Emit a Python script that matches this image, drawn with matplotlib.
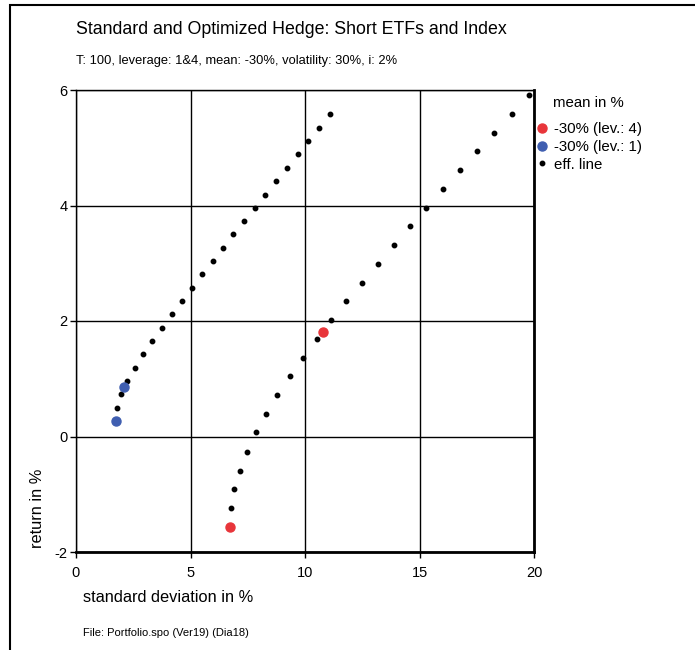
import matplotlib.pyplot as plt
from matplotlib.patches import Rectangle

plt.rcParams["font.family"] = ["Liberation Sans", "DejaVu Sans"]
plt.rcParams["axes.unicode_minus"] = False

# efficient line, leverage 1
eff1_sd = [1.80, 1.97, 2.24, 2.58, 2.94, 3.33, 3.76, 4.18, 4.62, 5.07, 5.52, 5.97,
           6.42, 6.87, 7.34, 7.80, 8.27, 8.75, 9.21, 9.68, 10.14, 10.62, 11.09]
eff1_ret = [0.50, 0.73, 0.96, 1.19, 1.42, 1.65, 1.88, 2.12, 2.35, 2.58, 2.81, 3.04,
            3.27, 3.50, 3.73, 3.96, 4.19, 4.42, 4.65, 4.89, 5.12, 5.35, 5.58]

# efficient line, leverage 4
eff4_sd = [6.78, 6.91, 7.15, 7.47, 7.85, 8.30, 8.79, 9.33, 9.91, 10.51, 11.15, 11.80,
           12.48, 13.17, 13.87, 14.59, 15.30, 16.04, 16.78, 17.52, 18.27, 19.03, 19.78]
eff4_ret = [-1.24, -0.91, -0.59, -0.26, 0.07, 0.39, 0.71, 1.04, 1.36, 1.69, 2.01, 2.35,
            2.66, 2.99, 3.31, 3.64, 3.96, 4.29, 4.61, 4.94, 5.26, 5.59, 5.91]

lev4_sd = [6.72, 10.77]
lev4_ret = [-1.56, 1.81]
lev1_sd = [1.73, 2.11]
lev1_ret = [0.26, 0.85]

RED = "#e8353a"
BLUE = "#3f5eb0"

fig = plt.figure(figsize=(6.95, 6.5), dpi=100)
fig.patches.append(Rectangle((10 / 695, -0.1), 1.2, 1.1 - 5 / 650, transform=fig.transFigure,
                             fill=False, edgecolor="black", linewidth=1.5))

ax = fig.add_axes([76 / 695, 1 - 552 / 650, 458 / 695, 462 / 650])
ax.set_xlim(0, 20)
ax.set_ylim(-2, 6)
ax.set_xticks([0, 5, 10, 15, 20])
ax.set_yticks([-2, 0, 2, 4, 6])
ax.grid(True, color="black", linewidth=1)
ax.set_axisbelow(True)
for side in ["left", "top"]:
    ax.spines[side].set_linewidth(1)
for side in ["bottom", "right"]:
    ax.spines[side].set_linewidth(2)
ax.tick_params(direction="out", length=4, width=1, labelsize=10.5)
ax.tick_params(axis="x", pad=6)
ax.tick_params(axis="y", pad=2)

ax.plot(eff1_sd, eff1_ret, "o", color="black", markersize=3.2, zorder=3)
ax.plot(eff4_sd, eff4_ret, "o", color="black", markersize=3.2, zorder=3, label="eff. line")
ax.plot(lev4_sd, lev4_ret, "o", color=RED, markersize=6.5, zorder=4, label="-30% (lev.: 4)")
ax.plot(lev1_sd, lev1_ret, "o", color=BLUE, markersize=6.5, zorder=4, label="-30% (lev.: 1)")

handles, labels = ax.get_legend_handles_labels()
order = [1, 2, 0]
fig.text(553 / 695, 1 - 103 / 650, "mean in %", fontsize=10.8, va="center", ha="left")
fig.legend([handles[i] for i in order], [labels[i] for i in order],
           loc="upper left", bbox_to_anchor=(528 / 695, 1 - 118 / 650),
           frameon=False, fontsize=10.8, handletextpad=0.25, handlelength=1.2,
           labelspacing=0.24, borderaxespad=0, borderpad=0.3)

fig.text(76 / 695, 1 - 30 / 650, "Standard and Optimized Hedge: Short ETFs and Index",
         fontsize=12.8, va="center", ha="left")
fig.text(76 / 695, 1 - 61 / 650, "T: 100, leverage: 1&4, mean: -30%, volatility: 30%, i: 2%",
         fontsize=9.3, va="center", ha="left")
fig.text(83 / 695, 1 - 597 / 650, "standard deviation in %", fontsize=11.8, va="center", ha="left")
fig.text(38 / 695, 1 - 508 / 650, "return in %", fontsize=11.8, va="center", ha="center",
         rotation=90)
fig.text(83 / 695, 1 - 633 / 650, "File: Portfolio.spo (Ver19) (Dia18)", fontsize=8,
         va="center", ha="left")

fig.savefig("out.png", dpi=100)
